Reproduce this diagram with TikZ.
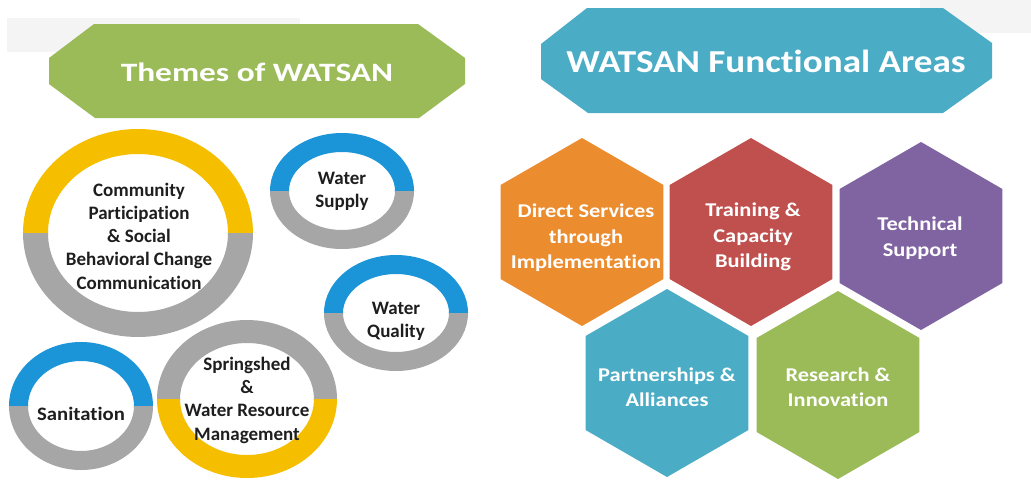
\documentclass[tikz,border=0pt]{standalone}
\usepackage{fontspec}
\setmainfont{Carlito}[Ligatures=NoCommon]
\newfontfamily\circfont{Carlito}[Ligatures=NoCommon]
\newfontfamily\sanfont{Carlito}[Ligatures=NoCommon,FakeStretch=1.09]
\newfontfamily\hexfont{Carlito}[Ligatures=NoCommon,FakeStretch=1.15]
\newfontfamily\ltitlefont{Carlito}[Ligatures=NoCommon,FakeStretch=1.26]
\newfontfamily\rtitlefont{Carlito}[Ligatures=NoCommon,FakeStretch=1.16]
\usetikzlibrary{shapes.geometric}
\definecolor{bgreen}{HTML}{9BBB59}
\definecolor{bteal}{HTML}{4BACC6}
\definecolor{horange}{HTML}{EB8C2F}
\definecolor{hred}{HTML}{C0504D}
\definecolor{hpurple}{HTML}{8064A2}
\definecolor{ryellow}{HTML}{F5BF00}
\definecolor{rgray}{HTML}{A6A6A6}
\definecolor{rblue}{HTML}{1B95D8}
\definecolor{txtdark}{HTML}{1E1E1E}
\definecolor{faint}{HTML}{F4F4F4}
% #1 cx, #2 cy, #3 rx, #4 ry, #5 thickness, #6 top colour, #7 bottom colour, #8 name
\newcommand\themering[8]{%
  \coordinate (#8) at (#1,#2);
  \begin{scope}
    \clip (#1-#3-3,#2-#4-3) rectangle (#1+#3+3,#2);
    \fill[#6,even odd rule] (#8) ellipse [x radius=#3pt,y radius=#4pt]
                           (#8) ellipse [x radius=#3pt-#5pt,y radius=#4pt-#5pt];
  \end{scope}
  \begin{scope}
    \clip (#1-#3-3,#2) rectangle (#1+#3+3,#2+#4+3);
    \fill[#7,even odd rule] (#8) ellipse [x radius=#3pt,y radius=#4pt]
                           (#8) ellipse [x radius=#3pt-#5pt,y radius=#4pt-#5pt];
  \end{scope}}
\tikzset{
  hexa/.style={regular polygon, regular polygon sides=6, shape border rotate=30,
    minimum size=188pt, inner sep=0pt, draw=none},
  hextext/.style={text=white, align=center, inner sep=0pt,
    font=\hexfont\bfseries\fontsize{19.5}{25.5}\selectfont},
  circtext/.style={text=txtdark, align=center, inner sep=0pt,
    font=\circfont\bfseries\fontsize{19}{23.3}\selectfont},
}
\begin{document}
\begin{tikzpicture}[x=1pt,y=-1pt]
\useasboundingbox (0,0) rectangle (1031,480);
\fill[white] (0,0) rectangle (1031,480);
\fill[faint] (7,18) rectangle (300,52);
\fill[faint] (920,0) rectangle (1031,33);
% banners
\fill[bgreen] (49,58) -- (94,24) -- (418,24) -- (465,58) -- (465,84)
  -- (419,118) -- (95,118) -- (49,84) -- cycle;
\node[text=white, inner sep=0pt, font=\ltitlefont\bfseries\fontsize{26.5}{30}\selectfont]
  (ttheme) at (257,72) {Themes of WATSAN};
\fill[bteal] (541,44) -- (587,8) -- (943,8) -- (992,43) -- (992,78)
  -- (943,113) -- (588,113) -- (541,79) -- cycle;
\node[text=white, inner sep=0pt, font=\rtitlefont\bfseries\fontsize{32}{36}\selectfont]
  (tfunc) at (766,61) {WATSAN Functional Areas};
% rings
\themering{138}{233}{115}{104}{25}{ryellow}{rgray}{rcomm}
\themering{342}{191}{72}{58}{19}{rblue}{rgray}{rsupply}
\themering{396}{313}{72}{58}{19}{rblue}{rgray}{rquality}
\themering{81}{406}{72}{64}{19}{rblue}{rgray}{rsanit}
\themering{247}{399}{90}{79}{23}{rgray}{ryellow}{rspring}
\node[circtext] (comm) at (139,236) {Community\\Participation\\\& Social\\Behavioral Change\\Communication};
\node[circtext] (supply) at (342,191) {Water\\Supply};
\node[circtext] (quality) at (396,321) {Water\\Quality};
\node[circtext, font=\sanfont\bfseries\fontsize{19}{23.3}\selectfont] (sanit) at (81,414) {Sanitation};
\node[circtext] (spring) at (247,400) {Springshed\\\&\\Water Resource\\Management};
% hexagons
\node[hexa, fill=horange] (hds) at (582,232) {};
\node[hexa, fill=hred] (htc) at (751,232) {};
\node[hexa, fill=hpurple] (hts) at (921,236) {};
\node[hexa, fill=bteal] (hpa) at (667,383) {};
\node[hexa, fill=bgreen] (hri) at (838,385) {};
\node[hextext] (tds) at (586,238) {Direct Services\\through\\Implementation};
\node[hextext] (ttc) at (753,237) {Training \&\\Capacity\\Building};
\node[hextext] (tts) at (920,238) {Technical\\Support};
\node[hextext] (tpa) at (667,387) {Partnerships \&\\Alliances};
\node[hextext] (tri) at (838,387) {Research \&\\Innovation};
\end{tikzpicture}
\end{document}
